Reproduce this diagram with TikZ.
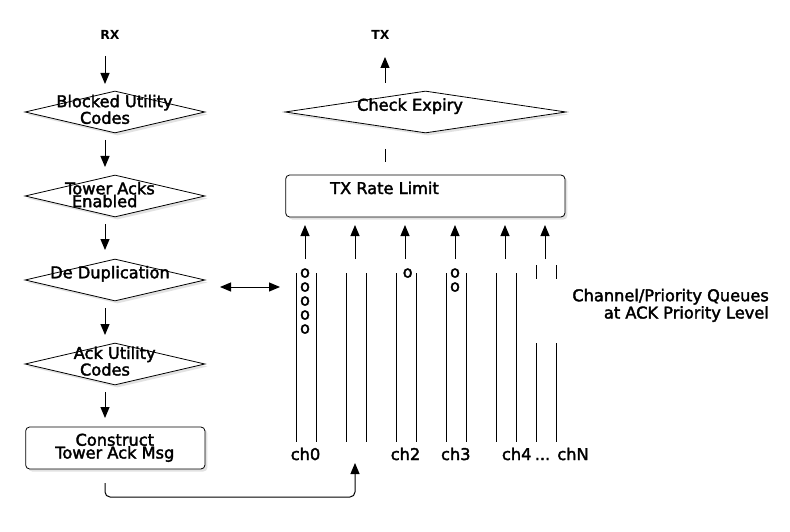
\documentclass[tikz,border=0pt]{standalone}
\usepackage{fontspec}
\setmainfont{DejaVu Sans}
\newfontfamily\dvheavy[FakeBold=2.2]{DejaVu Sans}
\usetikzlibrary{arrows.meta,shapes.geometric,shadows}
\begin{document}
\begin{tikzpicture}[x=1pt,y=-1pt,
  shad/.style={drop shadow={shadow xshift=2.5pt,shadow yshift=-2.5pt,fill=black!22}},
  dia/.style={draw,diamond,line width=0.8pt,fill=white,inner sep=0pt,shad},
  box/.style={draw,rectangle,rounded corners=4pt,line width=0.8pt,fill=white,inner sep=0pt,shad},
  txt/.style={anchor=base,inner sep=0pt,align=center,font=\dvheavy\fontsize{16.2}{12.8}\selectfont},
  small/.style={anchor=base,inner sep=0pt,font=\bfseries\fontsize{12.5}{14}\selectfont},
  arr/.style={line width=1pt,-{Triangle[width=9pt,length=11pt]}},
  darr/.style={line width=1pt,{Triangle[width=9pt,length=11pt]}-{Triangle[width=9pt,length=11pt]}},
  qline/.style={line width=1pt}]
\useasboundingbox[fill=white] (0,0) rectangle (790,532);

% left column shapes
\node[dia,minimum width=180pt,minimum height=42pt] (blk) at (115,112) {};
\node[dia,minimum width=180pt,minimum height=42pt] (twr) at (115,196) {};
\node[dia,minimum width=180pt,minimum height=42pt] (dup) at (115,280) {};
\node[dia,minimum width=180pt,minimum height=42pt] (ack) at (115,364) {};
\node[box,minimum width=179.3pt,minimum height=42pt] (con) at (115.3,448) {};

% right column shapes
\node[dia,minimum width=281pt,minimum height=42pt] (exp) at (425.5,112) {};
\node[box,minimum width=279.3pt,minimum height=42pt] (rate) at (425.3,196) {};

% texts (anchor base = baseline of the last line)
\node[small] (rx) at (110,40) {RX};
\node[small] (tx) at (380.5,40) {TX};
\node[txt] (blkt) at (114.5,123.8) {Blocked Utility\\\hspace*{-19pt}Codes};
\node[txt] (twrt) at (110,207.1) {Tower Acks\\\hspace*{-10.6pt}Enabled};
\node[txt] (dupt) at (110,278.3) {De Duplication};
\node[txt] (ackt) at (114.7,375.5) {Ack Utility\\\hspace*{-19.4pt}Codes};
\node[txt] (cont) at (114.8,458.5) {Construct\\Tower Ack Msg};
\node[txt] (expt) at (410,110.7) {Check Expiry};
\node[txt] (ratet) at (384.5,194) {TX Rate Limit};
\node[txt,anchor=base east,align=right] (cpq) at (769,318.5) {Channel/Priority Queues\\[0.6pt]at ACK Priority Level};
\node[txt] (ch0) at (305.5,460) {ch0};
\node[txt,text=white] (ch1) at (355,460) {ch1};
\node[txt] (ch2) at (405.5,460) {ch2};
\node[txt] (ch3) at (455.8,460) {ch3};
\node[txt] (ch4) at (516.7,460) {ch4};
\node[txt] (dots) at (542.5,460) {...};
\node[txt] (chN) at (573,460) {chN};

% queued items
\node[txt] (q0) at (305,333.5) {o\\[1.2pt]o\\[1.2pt]o\\[1.2pt]o\\[1.2pt]o};
\node[txt] (q21) at (407.7,277.5) {o};
\node[txt] (q3) at (455,291.5) {o\\[1.2pt]o};

% queue lines
\foreach \x in {296,316,346,366,396,416,446,466,496,516}
  \draw[qline] (\x,273) -- (\x,442);
\foreach \x in {536,556}{
  \draw[qline] (\x,265) -- (\x,279);
  \draw[qline] (\x,343) -- (\x,442);
}

% left arrows
\coordinate (a1s) at (105,56);  \coordinate (a1e) at (105,84);
\coordinate (a2s) at (105,140); \coordinate (a2e) at (105,167);
\coordinate (a3s) at (105,224); \coordinate (a3e) at (105,250);
\coordinate (a4s) at (105,308); \coordinate (a4e) at (105,335);
\coordinate (a5s) at (105,392); \coordinate (a5e) at (105,418);
\draw[arr] (a1s) -- (a1e);
\draw[arr] (a2s) -- (a2e);
\draw[arr] (a3s) -- (a3e);
\draw[arr] (a4s) -- (a4e);
\draw[arr] (a5s) -- (a5e);

% TX arrow and short line
\coordinate (txs) at (385,83); \coordinate (txe) at (385,57);
\draw[arr] (txs) -- (txe);
\coordinate (sls) at (385,149); \coordinate (sle) at (385,162);
\draw[qline] (sls) -- (sle);

% up arrows into rate limit
\foreach \x in {305,355,405,455,505,545}{
  \coordinate (u\x s) at (\x,259); \coordinate (u\x e) at (\x,225);
  \draw[arr] (u\x s) -- (u\x e);
}

% double arrow
\coordinate (ds) at (220,287); \coordinate (de) at (280,287);
\draw[darr] (ds) -- (de);

% bottom connector
\coordinate (bs) at (105,483); \coordinate (bc1) at (105,497);
\coordinate (bc2) at (355,497); \coordinate (be) at (355,463);
\draw[arr,rounded corners=5pt] (bs) -- (bc1) -- (bc2) -- (be);
\end{tikzpicture}
\end{document}
